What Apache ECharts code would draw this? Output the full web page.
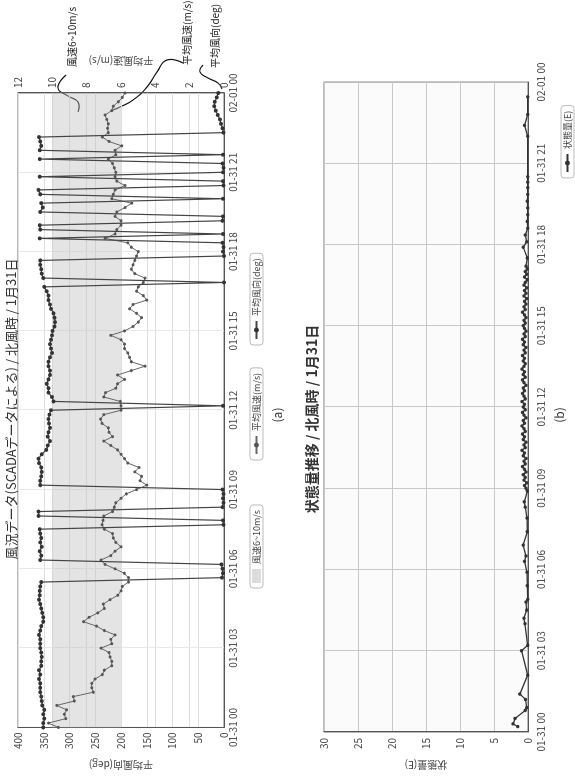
<!DOCTYPE html>
<html><head><meta charset="utf-8">
<script src="https://cdn.jsdelivr.net/npm/echarts/dist/echarts.min.js"></script>
<style>
html,body{margin:0;padding:0;background:#fff;width:575px;height:778px;overflow:hidden;}
#wrap{position:absolute;left:0;top:0;width:778px;height:575px;transform-origin:0 0;transform:translate(0,778px) rotate(-90deg);}
#chart{width:778px;height:575px;}
</style></head><body><div id="wrap"><div id="chart"></div></div>
<script>
// ---- data ----
const xTickLabels = ['01-31 00','01-31 03','01-31 06','01-31 09','01-31 12','01-31 15','01-31 18','01-31 21','02-01 00'];
const sampleMinutes = 10; // chart (a) sampled every 10 minutes from 01-31 00:00
const windSpeed = [
 9.65,10.23,9.22,9.30,9.17,9.75,8.72,8.78,7.61,7.71,7.71,7.51,7.09,6.97,6.54,6.54,6.64,6.70,7.17,6.54,
 6.60,6.35,6.97,7.42,8.19,7.86,7.36,6.97,7.03,6.64,6.19,6.00,5.92,5.57,5.57,5.81,6.35,6.93,7.17,
 6.6,6.35,6.0,6.3,6.45,6.5,6.97,7.1,7.05,7.0,6.5,6.4,6.3,6.0,5.7,5.1,4.5,4.9,4.8,5.2,4.95,5.6,5.8,6.0,6.2,6.6,7.0,6.5,6.7,6.75,7.1,7.2,7.0,6.0,6.0,6.05,
 7.0,6.9,6.3,6.2,5.8,6.2,5.4,4.6,5.4,5.5,5.6,5.8,5.8,6.0,6.6,5.8,5.3,5.0,4.8,5.1,5.5,5.3,4.5,4.7,5.1,5.0,4.7,4.6,5.2,5.4,5.3,5.2,5.1,5.0,5.4,
 5.6,6.93,6.35,6.25,6.0,6.0,6.35,6.25,5.77,5.38,6.54,6.45,6.35,5.77,6.25,6.35,6.3,6.4,6.5,6.74,6.3,6.35,5.96,6.7,7.09,6.74,6.78,6.74,6.83,6.93,6.54,6.45,6.16,5.92,5.77
];
const windDir = [
 351,351,349,351,349,353,354,355,357,357,357,359,357,359,355,355,354,355,357,357,357,359,357,355,351,351,353,355,357,359,358,358,357,355,
 4,2,3,5,
 357,355,358,354,357,355,357,358,
 1,2,
 360,360,
 3,1,2,1,3,
 357,357,355,354,355,359,360,354,345,342,338,342,341,338,340,341,339,336,
 2,
 331,334,341,341,344,341,338,338,341,341,338,334,336,338,336,334,333,329,328,329,331,336,338,341,341,344,349,
 0,
 351,354,355,357,357,
 0,2,1,3,
 358,
 2,
 357,358,
 3,2,
 357,352,355,
 2,
 357,360,
 1,2,
 358,
 2,1,3,
 358,
 2,
 358,355,357,359,
 1,3,6,8,12,16,19,18,14,11
];
const stateHours = [
 0.2,0.3,0.5,0.8,0.9,1.2,1.4,2.1,3.0,3.2,4.0,4.2,4.5,4.8,4.9,5.4,5.9,6.3,6.5,6.9,7.4,7.9,8.3,8.5,8.9,
 9.0,9.1,9.2,9.3,9.4,9.5,9.6,9.7,9.8,9.9,10.0,10.1,10.2,10.3,10.4,10.5,10.6,10.7,10.8,10.9,
 11.0,11.1,11.2,11.3,11.4,11.5,11.6,11.7,11.8,11.9,12.0,12.1,12.2,12.3,12.4,12.5,12.6,12.7,12.8,12.9,
 13.0,13.1,13.2,13.3,13.4,13.5,13.6,13.7,13.8,13.9,14.0,14.1,14.2,14.3,14.4,14.5,14.6,14.7,14.8,14.9,
 15.0,15.1,15.2,15.3,15.4,15.5,15.6,15.7,15.8,15.9,16.0,16.1,16.2,16.3,16.4,16.5,16.6,16.7,16.8,16.9,17.0,17.1,17.2,
 17.5,17.9,18.1,18.35,18.6,18.85,19.1,19.35,19.6,19.85,20.1,20.3,20.5,22.0,22.4,22.8,23.45
];
const stateE = [
 1.5,2.2,1.9,0.4,0.2,0.35,1.2,0.05,0.95,0.05,0.45,0.6,0.2,0.3,0.05,0.1,0.15,0.5,0.3,0.7,0.1,0.15,0.4,0.55,0.1,
 0.3,0.5,0.2,0.6,0.4,0.7,0.3,0.5,0.8,0.4,0.6,0.3,0.7,0.5,0.9,0.4,0.6,0.3,0.7,0.5,
 0.8,0.4,0.6,0.9,0.5,0.7,0.3,0.6,0.8,0.4,0.7,0.5,0.9,0.4,0.6,0.8,0.5,0.7,0.3,0.6,
 0.8,0.4,0.7,0.5,0.9,0.6,0.4,0.7,0.5,0.8,0.4,0.6,0.3,0.7,0.5,0.8,0.4,0.6,0.3,0.5,
 0.7,0.4,0.6,0.3,0.5,0.8,0.4,0.6,0.3,0.5,0.2,0.6,0.3,0.5,0.2,0.6,0.4,0.1,0.5,0.2,0.4,0.1,0.3,
 0.1,0.7,0.2,0.4,0.05,0.1,0.05,0.05,0.1,0.05,0.05,0.05,0.05,0.05,0.5,0.05,0.05
];

// ---- build ----
const hourOf = i => i * sampleMinutes / 60;
const speedData = windSpeed.map((v,i)=>[hourOf(i), v]);
const dirData = windDir.map((v,i)=>[hourOf(i), v]);
const stateData = stateHours.map((h,i)=>[h, stateE[i]]);

const FONT = '"Noto Sans CJK JP","Noto Sans",sans-serif';
const labelC = '#444';
const xAx = (g) => ({
  type:'value', gridIndex:g, min:0, max:24, interval:3,
  axisLine:{show:true, lineStyle:{color:'#555'}}, axisTick:{show:false},
  axisLabel:{color:labelC, fontSize:10, margin: g===0?4:8, formatter:v=>xTickLabels[Math.round(v/3)]},
  splitLine:{show:true, lineStyle:{color: g===0?'#e8e8e8':'#c8c8c8'}}
});

const chart = echarts.init(document.getElementById('chart'));
chart.setOption({
  animation:false,
  textStyle:{fontFamily:FONT},
  title:[
    {text:'風況データ(SCADAデータによる) / 北風時 / 1月31日', left:364, top:0, textAlign:'center', textStyle:{fontSize:13, fontWeight:'normal', color:'#333', fontFamily:FONT}},
    {text:'(a)', left:358, top:266, textAlign:'center', textStyle:{fontSize:12, fontWeight:'normal', color:'#333', fontFamily:FONT}},
    {text:'状態量推移 / 北風時 / 1月31日', left:354, top:300, textAlign:'center', textStyle:{fontSize:14, fontWeight:'bold', color:'#333', fontFamily:FONT}},
    {text:'(b)', left:358, top:548, textAlign:'center', textStyle:{fontSize:12, fontWeight:'normal', color:'#333', fontFamily:FONT}}
  ],
  grid:[
    {left:43, right:93, top:18, height:206, show:true, borderColor:'#777', borderWidth:1, backgroundColor:'#fff'},
    {left:41, right:82, top:324, height:204, show:true, borderColor:'#777', borderWidth:1, backgroundColor:'#fbfbfb'}
  ],
  xAxis:[xAx(0), xAx(1)],
  yAxis:[
    {type:'value', gridIndex:0, min:0, max:400, interval:50, name:'平均風向(deg)', nameLocation:'middle', nameGap:22, nameRotate:90,
     nameTextStyle:{color:labelC, fontSize:10},
     axisLine:{show:true, lineStyle:{color:'#555'}}, axisTick:{show:false},
     axisLabel:{color:labelC, fontSize:10, margin:5}, splitLine:{lineStyle:{color:'#dedede'}}},
    {type:'value', gridIndex:0, position:'right', min:0, max:12, interval:2, name:'平均風速(m/s)', nameLocation:'middle', nameGap:17, nameRotate:90,
     nameTextStyle:{color:labelC, fontSize:10},
     axisLine:{show:true, lineStyle:{color:'#555'}}, axisTick:{show:false},
     axisLabel:{color:labelC, fontSize:10, margin:5}, splitLine:{show:true, lineStyle:{color:'#dedede'}}},
    {type:'value', gridIndex:1, min:0, max:30, interval:5, name:'状態量(E)', nameLocation:'middle', nameGap:19, nameRotate:90,
     nameTextStyle:{color:labelC, fontSize:10},
     axisLine:{show:true, lineStyle:{color:'#555'}}, axisTick:{show:false},
     axisLabel:{color:labelC, fontSize:10, margin:6}, splitLine:{lineStyle:{color:'#c8c8c8'}}}
  ],
  legend:[
    {data:[{name:'風速6~10m/s', icon:'rect', itemStyle:{color:'#dcdcdc'}}], left:190, top:250, itemWidth:14, itemHeight:9, itemGap:4,
     borderColor:'#bbb', borderWidth:1, borderRadius:3, padding:[2,5], textStyle:{fontSize:9, color:labelC}},
    {data:['平均風速(m/s)'], left:318, top:250, itemWidth:18, itemHeight:6, borderColor:'#bbb', borderWidth:1, borderRadius:3, padding:[2,5], textStyle:{fontSize:9, color:labelC}},
    {data:['平均風向(deg)'], left:433, top:250, itemWidth:18, itemHeight:6, borderColor:'#bbb', borderWidth:1, borderRadius:3, padding:[2,5], textStyle:{fontSize:9, color:labelC}},
    {data:['状態量(E)'], left:600, top:561, itemWidth:18, itemHeight:6, borderColor:'#bbb', borderWidth:1, borderRadius:3, padding:[2,5], textStyle:{fontSize:9, color:labelC}}
  ],
  series:[
    {name:'風速6~10m/s', type:'line', xAxisIndex:0, yAxisIndex:1, data:[], itemStyle:{color:'#dcdcdc'}, lineStyle:{color:'#dcdcdc'}},
    {name:'平均風速(m/s)', type:'line', xAxisIndex:0, yAxisIndex:1, data:speedData,
     symbol:'circle', symbolSize:3, itemStyle:{color:'#555'}, lineStyle:{color:'#666', width:1}, z:3,
     markArea:{silent:true, itemStyle:{color:'rgba(190,190,190,0.42)'}, data:[[{yAxis:6},{yAxis:10}]]}},
    {name:'平均風向(deg)', type:'line', xAxisIndex:0, yAxisIndex:0, data:dirData,
     symbol:'circle', symbolSize:4, itemStyle:{color:'#333'}, lineStyle:{color:'#444', width:1.2}, z:4},
    {name:'状態量(E)', type:'line', xAxisIndex:1, yAxisIndex:2, data:stateData,
     symbol:'circle', symbolSize:3.5, itemStyle:{color:'#333'}, lineStyle:{color:'#333', width:1.3}}
  ],
  graphic:[
    {type:'text', left:711, top:67, style:{text:'風速6~10m/s', fontSize:10, fill:'#222', fontFamily:FONT}},
    {type:'polyline', shape:{points:[[703,66],[690,58],[682,68],[676,78],[666,78]], smooth:0.5}, style:{stroke:'#111', lineWidth:1.2, fill:null}},
    {type:'text', left:713, top:182, style:{text:'平均風速(m/s)', fontSize:10, fill:'#222', fontFamily:FONT}},
    {type:'polyline', shape:{points:[[715,183],[718,167],[706,157],[691,147],[678,133],[671,120],[668,113]], smooth:0.5}, style:{stroke:'#111', lineWidth:1.2, fill:null}},
    {type:'text', left:710, top:210, style:{text:'平均風向(deg)', fontSize:10, fill:'#222', fontFamily:FONT}},
    {type:'polyline', shape:{points:[[713,203],[706,200],[700,208],[695,218],[689,222]], smooth:0.5}, style:{stroke:'#111', lineWidth:1.2, fill:null}}
  ]
});
</script></body></html>
